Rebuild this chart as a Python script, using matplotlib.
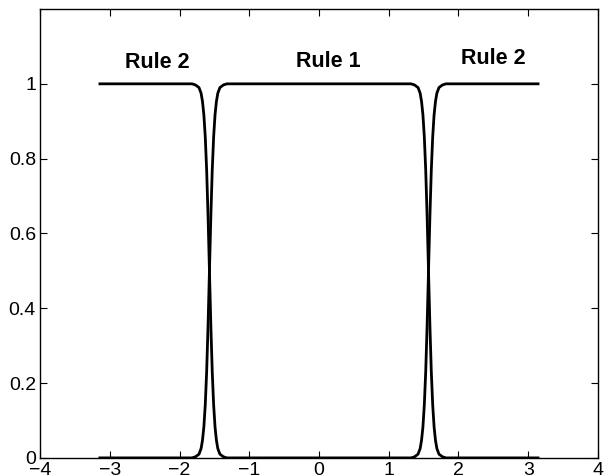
import numpy as np
import matplotlib.pyplot as plt

plt.rcParams['font.family'] = ['Liberation Sans', 'DejaVu Sans']

# rule boundaries (membership crosses 0.5 here)
centers = [-np.pi / 2, np.pi / 2]
x_min, x_max = -np.pi, np.pi

# shape of one falling edge: offset from the boundary -> membership
edge_dx = [-0.25, -0.20, -0.15, -0.12, -0.10, -0.08, -0.06, -0.04, -0.02, 0.0,
           0.02, 0.04, 0.06, 0.08, 0.10, 0.12, 0.15, 0.20, 0.25]
edge_fall = [1.0, 0.997, 0.99, 0.975, 0.953, 0.917, 0.858, 0.769, 0.646, 0.5,
             0.354, 0.231, 0.142, 0.083, 0.047, 0.025, 0.01, 0.003, 0.0]

labels = ['Rule 2', 'Rule 1', 'Rule 2']
label_x = [-2.32, 0.14, 2.5]
label_y = [1.057, 1.061, 1.068]

dx = np.array(edge_dx)
fall = np.array(edge_fall)
rise = 1 - fall

# Rule 2: high outside, low in the middle; Rule 1 the complement
x = np.concatenate([[x_min], centers[0] + dx, centers[1] + dx, [x_max]])
rule2 = np.concatenate([[1.0], fall, rise, [1.0]])
rule1 = np.concatenate([[0.0], rise, fall, [0.0]])

fig = plt.figure(figsize=(6.07, 4.75), dpi=100)
ax = fig.add_axes([0.066, 0.036, 0.919, 0.945])
ax.plot(x, rule1, color='black', lw=2.0)
ax.plot(x, rule2, color='black', lw=2.0)

for t, tx, ty in zip(labels, label_x, label_y):
    ax.text(tx, ty, t, ha='center', va='center', fontsize=15.5, fontweight='bold')

ax.set_xlim(-4, 4)
ax.set_ylim(0, 1.2)
ax.set_xticks(range(-4, 5))
ax.set_yticks([0, 0.2, 0.4, 0.6, 0.8, 1.0])
ax.set_yticklabels(['0', '0.2', '0.4', '0.6', '0.8', '1'])
ax.tick_params(direction='in', top=True, right=True, length=5, width=0.8,
               labelsize=14, pad=3)
for s in ax.spines.values():
    s.set_linewidth(1.0)

fig.savefig('out.png', dpi=100)
